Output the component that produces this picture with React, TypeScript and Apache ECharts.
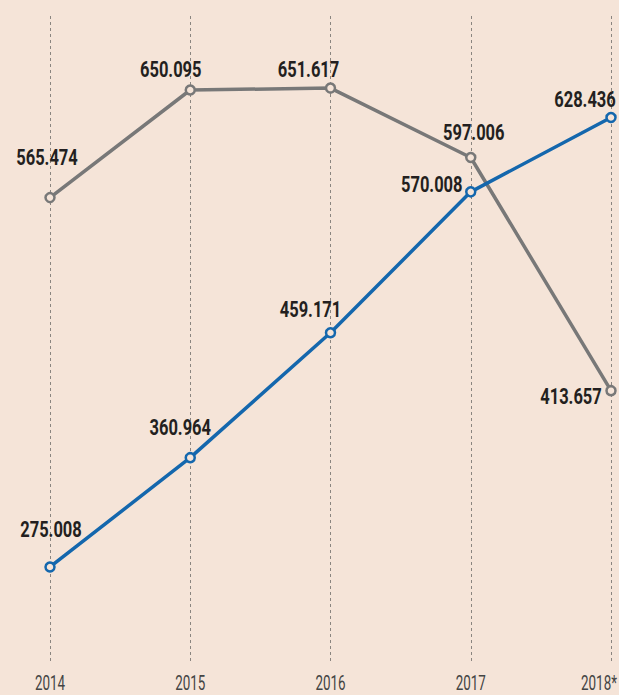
import React, { useEffect, useRef } from "react";
import * as echarts from "echarts";

const categories = ["2014", "2015", "2016", "2017", "2018*"];
const grayValues = [565.474, 650.095, 651.617, 597.006, 413.657];
const blueValues = [275.008, 360.964, 459.171, 570.008, 628.436];

// label centre offsets from each point (pixels) – styling only
const grayLabelOffsets: [number, number][] = [
  [-3, -40], [-19.5, -20], [-22, -18], [3, -25], [-40, 6],
];
const blueLabelOffsets: [number, number][] = [
  [1, -37], [-10, -30], [-20, -23], [-39, -7.5], [-26, -18],
];
// x-label horizontal nudges (pixels) – styling only
const xLabelNudges = [0, 0, 0, 0, -12];

const BG = "#f5e4d8";
const FONT = "Roboto, 'Liberation Sans', sans-serif";

function makeSeries(name: string, values: number[], color: string) {
  return {
    name,
    type: "line",
    data: values,
    symbol: "circle",
    symbolSize: 9,
    lineStyle: { color, width: 3.5 },
    itemStyle: { color: BG, borderColor: color, borderWidth: 2.5 },
    z: 3,
  };
}

export default function App() {
  const ref = useRef<HTMLDivElement>(null);
  useEffect(() => {
    if (!ref.current) return;
    const chart = echarts.init(ref.current, null, { renderer: "svg" });
    chart.setOption({
      animation: false,
      backgroundColor: BG,
      grid: {
        left: 50,
        right: 8,
        top: 16,
        bottom: 31,
        containLabel: false,
        outerBoundsMode: "none",
      },
      xAxis: {
        type: "category",
        data: categories,
        boundaryGap: false,
        axisLine: { show: false },
        axisTick: { show: false },
        axisLabel: { show: false },
        splitLine: {
          show: true,
          lineStyle: { color: "#8a8580", width: 1, type: [3, 3] },
        },
      },
      yAxis: {
        type: "value",
        min: 198.7,
        max: 708.3,
        show: false,
        splitLine: { show: false },
      },
      series: [
        makeSeries("gray", grayValues, "#787878"),
        makeSeries("blue", blueValues, "#1467ad"),
      ],
    });

    const graphics: any[] = [];
    const addLabels = (values: number[], offsets: [number, number][]) => {
      values.forEach((v, i) => {
        const p = chart.convertToPixel({ xAxisIndex: 0, yAxisIndex: 0 }, [i, v]) as number[];
        graphics.push({
          type: "text",
          x: p[0] + offsets[i][0],
          y: p[1] + offsets[i][1],
          scaleX: 0.75,
          z: 10,
          style: {
            text: v.toFixed(3),
            x: 0,
            y: 0,
            align: "center",
            verticalAlign: "middle",
            font: `bold 22px ${FONT}`,
            fill: "#231f20",
          },
        });
      });
    };
    addLabels(grayValues, grayLabelOffsets);
    addLabels(blueValues, blueLabelOffsets);

    categories.forEach((c, i) => {
      const p = chart.convertToPixel({ xAxisIndex: 0, yAxisIndex: 0 }, [i, 198.7]) as number[];
      graphics.push({
        type: "text",
        x: p[0] + xLabelNudges[i],
        y: 683,
        scaleX: 0.64,
        z: 10,
        style: {
          text: c,
          x: 0,
          y: 0,
          align: "center",
          verticalAlign: "middle",
          font: `21px ${FONT}`,
          fill: "#444444",
        },
      });
    });

    chart.setOption({ graphic: graphics });
    return () => chart.dispose();
  }, []);
  return (
    <div
      ref={ref}
      style={{ position: "fixed", left: 0, top: 0, width: 619, height: 695, background: BG }}
    />
  );
}
